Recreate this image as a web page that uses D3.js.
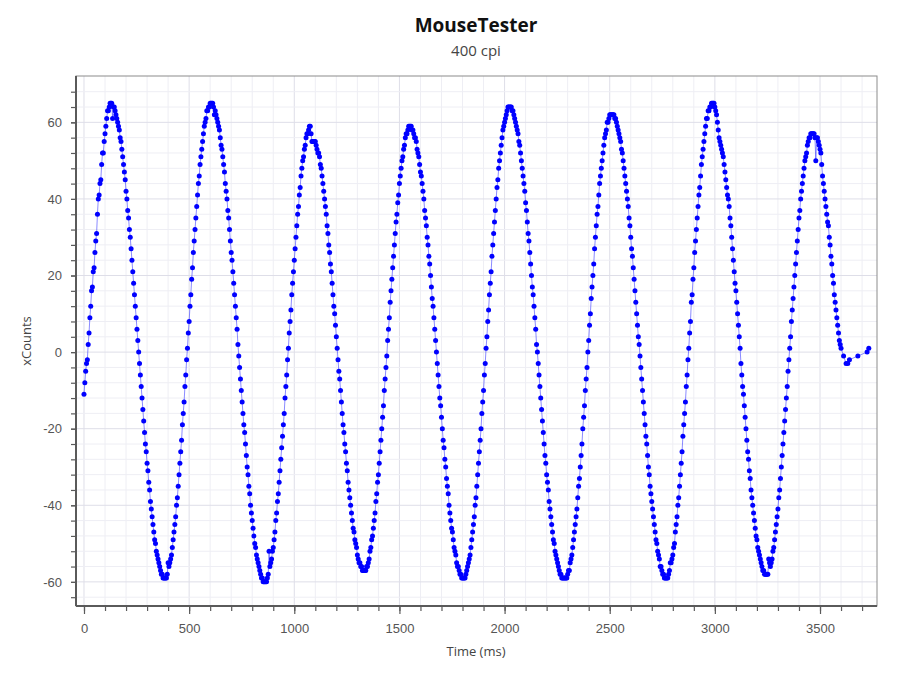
<!DOCTYPE html>
<html>
<head>
<meta charset="utf-8">
<script src="https://cdn.jsdelivr.net/npm/d3@7"></script>
<style>
  body { margin: 0; background: #fff; }
  svg { font-family: "Open Sans", "Noto Sans", sans-serif; }
</style>
</head>
<body>
<svg id="chart" width="900" height="675"></svg>
<script>
const chartTitle = 'MouseTester';
const chartSubtitle = '400 cpi';
const xTitle = 'Time (ms)';
const yTitle = 'xCounts';
const xTicks = [0, 500, 1000, 1500, 2000, 2500, 3000, 3500];
const yTicks = [-60, -40, -20, 0, 20, 40, 60];

// sample times, ms
const timeMs = [
  0,4,8,12,16,20,24,28,32,36,40,44,48,52,56,60,64,68,72,76,80,84,88,92,96,
  100,104,108,112,116,120,124,128,132,136,140,144,148,152,156,160,164,168,172,176,180,184,188,192,196,
  200,204,208,212,216,220,224,228,232,236,240,244,248,252,256,260,264,268,272,276,280,284,288,292,296,
  300,304,308,312,316,320,324,328,332,336,340,344,348,352,356,360,364,368,372,376,380,384,388,392,396,
  400,404,408,412,416,420,424,428,432,436,440,444,448,452,456,460,464,468,472,476,480,484,488,492,496,
  500,504,508,512,516,520,524,528,532,536,540,544,548,552,556,560,564,568,572,576,580,584,588,592,596,
  600,604,608,612,616,620,624,628,632,636,640,644,648,652,656,660,664,668,672,676,680,684,688,692,696,
  700,704,708,712,716,720,724,728,732,736,740,744,748,752,756,760,764,768,772,776,780,784,788,792,796,
  800,804,808,812,816,820,824,828,832,836,840,844,848,852,856,860,864,868,872,876,880,884,888,892,896,
  900,904,908,912,916,920,924,928,932,936,940,944,948,952,956,960,964,968,972,976,980,984,988,992,996,
  1000,1004,1008,1012,1016,1020,1024,1028,1032,1036,1040,1044,1048,1052,1056,1060,1064,1068,1072,1076,1080,1084,1088,1092,1096,
  1100,1104,1108,1112,1116,1120,1124,1128,1132,1136,1140,1144,1148,1152,1156,1160,1164,1168,1172,1176,1180,1184,1188,1192,1196,
  1200,1204,1208,1212,1216,1220,1224,1228,1232,1236,1240,1244,1248,1252,1256,1260,1264,1268,1272,1276,1280,1284,1288,1292,1296,
  1300,1304,1308,1312,1316,1320,1324,1328,1332,1336,1340,1344,1348,1352,1356,1360,1364,1368,1372,1376,1380,1384,1388,1392,1396,
  1400,1404,1408,1412,1416,1420,1424,1428,1432,1436,1440,1444,1448,1452,1456,1460,1464,1468,1472,1476,1480,1484,1488,1492,1496,
  1500,1504,1508,1512,1516,1520,1524,1528,1532,1536,1540,1544,1548,1552,1556,1560,1564,1568,1572,1576,1580,1584,1588,1592,1596,
  1600,1604,1608,1612,1616,1620,1624,1628,1632,1636,1640,1644,1648,1652,1656,1660,1664,1668,1672,1676,1680,1684,1688,1692,1696,
  1700,1704,1708,1712,1716,1720,1724,1728,1732,1736,1740,1744,1748,1752,1756,1760,1764,1768,1772,1776,1780,1784,1788,1792,1796,
  1800,1804,1808,1812,1816,1820,1824,1828,1832,1836,1840,1844,1848,1852,1856,1860,1864,1868,1872,1876,1880,1884,1888,1892,1896,
  1900,1904,1908,1912,1916,1920,1924,1928,1932,1936,1940,1944,1948,1952,1956,1960,1964,1968,1972,1976,1980,1984,1988,1992,1996,
  2000,2004,2008,2012,2016,2020,2024,2028,2032,2036,2040,2044,2048,2052,2056,2060,2064,2068,2072,2076,2080,2084,2088,2092,2096,
  2100,2104,2108,2112,2116,2120,2124,2128,2132,2136,2140,2144,2148,2152,2156,2160,2164,2168,2172,2176,2180,2184,2188,2192,2196,
  2200,2204,2208,2212,2216,2220,2224,2228,2232,2236,2240,2244,2248,2252,2256,2260,2264,2268,2272,2276,2280,2284,2288,2292,2296,
  2300,2304,2308,2312,2316,2320,2324,2328,2332,2336,2340,2344,2348,2352,2356,2360,2364,2368,2372,2376,2380,2384,2388,2392,2396,
  2400,2404,2408,2412,2416,2420,2424,2428,2432,2436,2440,2444,2448,2452,2456,2460,2464,2468,2472,2476,2480,2484,2488,2492,2496,
  2500,2504,2508,2512,2516,2520,2524,2528,2532,2536,2540,2544,2548,2552,2556,2560,2564,2568,2572,2576,2580,2584,2588,2592,2596,
  2600,2604,2608,2612,2616,2620,2624,2628,2632,2636,2640,2644,2648,2652,2656,2660,2664,2668,2672,2676,2680,2684,2688,2692,2696,
  2700,2704,2708,2712,2716,2720,2724,2728,2732,2736,2740,2744,2748,2752,2756,2760,2764,2768,2772,2776,2780,2784,2788,2792,2796,
  2800,2804,2808,2812,2816,2820,2824,2828,2832,2836,2840,2844,2848,2852,2856,2860,2864,2868,2872,2876,2880,2884,2888,2892,2896,
  2900,2904,2908,2912,2916,2920,2924,2928,2932,2936,2940,2944,2948,2952,2956,2960,2964,2968,2972,2976,2980,2984,2988,2992,2996,
  3000,3004,3008,3012,3016,3020,3024,3028,3032,3036,3040,3044,3048,3052,3056,3060,3064,3068,3072,3076,3080,3084,3088,3092,3096,
  3100,3104,3108,3112,3116,3120,3124,3128,3132,3136,3140,3144,3148,3152,3156,3160,3164,3168,3172,3176,3180,3184,3188,3192,3196,
  3200,3204,3208,3212,3216,3220,3224,3228,3232,3236,3240,3244,3248,3252,3256,3260,3264,3268,3272,3276,3280,3284,3288,3292,3296,
  3300,3304,3308,3312,3316,3320,3324,3328,3332,3336,3340,3344,3348,3352,3356,3360,3364,3368,3372,3376,3380,3384,3388,3392,3396,
  3400,3404,3408,3412,3416,3420,3424,3428,3432,3436,3440,3444,3448,3452,3456,3460,3464,3468,3472,3476,3480,3484,3488,3492,3496,
  3500,3504,3508,3512,3516,3520,3524,3528,3532,3536,3540,3544,3548,3552,3556,3560,3564,3568,3572,3576,3580,3584,3588,3592,3596,
  3600,3612,3624,3632,3640,3680,3724,3732
];

// counts per report, one line per swing
const xCounts = [
  -11,-8,-5,-3,-2,2,5,9,12,16,17,21,22,26,29,31,36,40,41,44,45,49,52,52,55,57,59,61,63,63,64,65,65,
  65,61,64,64,63,62,61,60,59,58,56,55,53,51,49,47,45,42,40,37,35,32,30,27,24,21,18,15,12,9,6,3,0,-3,-6,-9,-12,-15,-18,-21,-24,-26,-29,-31,-34,-36,-39,-41,-43,-45,-47,-49,-50,-52,-53,-54,-55,-56,-57,-58,-58,-59,-59,-59,
  -59,-59,-58,-55,-56,-55,-54,-53,-51,-49,-47,-45,-43,-40,-38,-35,-32,-29,-26,-23,-19,-16,-13,-9,-6,-2,1,5,8,12,15,19,22,26,29,32,35,38,41,44,46,49,51,53,55,57,59,60,61,63,63,64,64,65,65,
  65,65,64,62,63,62,61,60,59,58,56,54,53,51,49,47,44,42,40,37,35,32,29,26,24,21,18,15,12,9,6,2,-1,-4,-7,-10,-13,-16,-19,-21,-24,-27,-30,-32,-35,-37,-40,-42,-44,-46,-48,-50,-51,-53,-54,-55,-56,-57,-58,-59,-59,-60,-60,-60,
  -60,-60,-59,-58,-52,-56,-55,-54,-52,-51,-49,-47,-44,-42,-39,-37,-34,-31,-28,-25,-22,-19,-16,-12,-9,-6,-2,1,5,8,11,15,18,21,24,27,30,33,36,38,41,43,46,48,50,51,53,54,56,57,57,58,59,59,
  57,55,55,55,55,55,54,53,52,52,51,49,48,46,44,42,40,38,36,33,31,28,26,23,21,18,15,12,10,7,4,1,-2,-5,-7,-10,-13,-16,-19,-21,-24,-26,-29,-31,-34,-36,-38,-40,-42,-44,-46,-47,-49,-50,-51,-53,-54,-55,-55,-56,-56,-57,-57,-57,
  -57,-57,-56,-56,-55,-54,-52,-51,-49,-48,-46,-44,-42,-39,-37,-34,-32,-29,-26,-23,-20,-17,-14,-10,-7,-4,-1,3,6,9,13,16,19,22,25,28,31,34,36,39,41,44,46,48,50,51,53,54,56,57,57,58,59,59,
  59,59,58,58,57,56,56,55,53,52,51,49,47,46,44,42,40,37,35,33,30,28,25,23,20,17,14,12,9,6,3,0,-3,-6,-9,-12,-14,-17,-20,-23,-25,-28,-30,-33,-35,-37,-40,-42,-44,-46,-47,-49,-51,-52,-53,-55,-56,-56,-57,-58,-58,-59,-59,-59,
  -59,-59,-58,-57,-56,-55,-54,-53,-51,-49,-47,-45,-43,-40,-38,-35,-32,-29,-26,-23,-20,-16,-13,-10,-6,-3,1,4,8,11,15,18,21,25,28,31,34,37,40,43,45,48,50,52,54,56,58,59,60,61,62,63,64,64,64,
  64,64,63,63,62,61,60,59,58,57,55,54,52,50,48,46,44,42,39,37,34,31,29,26,23,20,17,15,12,9,6,2,0,-3,-6,-9,-12,-15,-18,-21,-24,-27,-29,-32,-34,-36,-39,-41,-43,-45,-47,-49,-50,-52,-53,-54,-55,-56,-57,-58,-58,-59,-59,-59,-59,
  -59,-59,-59,-58,-57,-57,-55,-54,-53,-51,-49,-47,-45,-43,-41,-38,-35,-33,-30,-27,-24,-20,-17,-14,-10,-7,-4,0,3,7,10,14,17,20,23,27,30,33,36,38,41,44,46,48,50,52,54,56,57,58,60,60,61,62,62,62,62,
  62,62,61,61,60,59,58,57,56,55,53,52,50,48,46,44,42,40,38,35,33,30,27,25,22,19,16,13,10,7,4,2,-1,-4,-7,-10,-13,-16,-19,-22,-24,-27,-30,-32,-35,-37,-39,-41,-43,-45,-47,-49,-50,-52,-53,-54,-56,-56,-57,-58,-58,-59,-59,-59,
  -59,-59,-58,-57,-55,-55,-54,-53,-51,-50,-47,-45,-43,-40,-38,-35,-32,-29,-26,-22,-19,-16,-13,-9,-6,-2,1,5,8,13,15,19,22,26,29,32,35,38,41,43,46,49,51,53,55,57,59,61,61,63,63,64,64,65,65,
  65,65,64,63,62,60,58,56,55,54,53,52,51,49,47,45,43,41,40,38,35,33,30,27,24,21,18,16,13,10,7,4,1,-3,-6,-9,-11,-14,-17,-20,-23,-26,-28,-31,-33,-36,-38,-40,-42,-44,-46,-48,-49,-51,-52,-53,-54,-55,-56,-57,-57,-58,-58,-58,
  -58,-58,-54,-55,-56,-55,-54,-52,-51,-49,-47,-45,-43,-41,-38,-36,-33,-30,-27,-24,-21,-18,-15,-12,-9,-5,-2,1,4,8,11,14,17,20,23,26,29,32,35,37,40,42,44,46,48,50,51,52,54,55,56,56,57,57,57,57,
  57,56,50,56,56,55,54,53,52,49,46,44,42,40,38,36,34,33,30,28,25,23,20,18,15,13,11,9,7,5,3,2,1,
  -1,-3,-3,-2,-1,0,1
];

const points = d3.zip(timeMs, xCounts);

const svg = d3.select('#chart');
const plot = { left: 76, right: 877, top: 76, bottom: 606 };

const x = d3.scaleLinear().domain([-38, 3771]).range([plot.left, plot.right]);
const y = d3.scaleLinear().domain([-66.3, 72.1]).range([plot.bottom, plot.top]);

const xMinor = d3.range(0, 3771, 100);
const yMinor = d3.range(-64, 72, 4);

// grid
const grid = svg.append('g');
grid.selectAll('.gx').data(xMinor).join('line')
  .attr('x1', d => x(d)).attr('x2', d => x(d))
  .attr('y1', plot.top).attr('y2', plot.bottom)
  .attr('stroke', d => d % 500 === 0 ? '#dedee8' : '#eeeef4')
  .attr('stroke-width', 1);
grid.selectAll('.gy').data(yMinor).join('line')
  .attr('x1', plot.left).attr('x2', plot.right)
  .attr('y1', d => y(d)).attr('y2', d => y(d))
  .attr('stroke', d => d % 20 === 0 ? '#dedee8' : '#eeeef4')
  .attr('stroke-width', 1);

// frame
svg.append('rect')
  .attr('x', plot.left).attr('y', plot.top)
  .attr('width', plot.right - plot.left).attr('height', plot.bottom - plot.top)
  .attr('fill', 'none').attr('stroke', '#8c8c8c').attr('stroke-width', 1);

// clip for the series
svg.append('clipPath').attr('id', 'clip').append('rect')
  .attr('x', plot.left).attr('y', plot.top)
  .attr('width', plot.right - plot.left).attr('height', plot.bottom - plot.top);

const series = svg.append('g').attr('clip-path', 'url(#clip)');
series.append('path')
  .datum(points)
  .attr('fill', 'none')
  .attr('stroke', '#2b2bff')
  .attr('stroke-opacity', 0.55)
  .attr('stroke-width', 1)
  .attr('d', d3.line().x(d => x(d[0])).y(d => y(d[1])));

series.selectAll('circle').data(points).join('circle')
  .attr('cx', d => x(d[0]))
  .attr('cy', d => y(d[1]))
  .attr('r', 2.5)
  .attr('fill', '#0000ff');

// axes
const axisColor = '#5a5a5a';
const plain = d => String(d); // hyphen minus, no grouping
const gxMinor = svg.append('g').attr('transform', `translate(0,${plot.bottom})`)
  .call(d3.axisBottom(x).tickValues(xMinor).tickSize(5).tickFormat(''));
const gx = svg.append('g').attr('transform', `translate(0,${plot.bottom})`)
  .call(d3.axisBottom(x).tickValues(xTicks).tickSize(8).tickPadding(10)
    .tickSizeOuter(0).tickFormat(plain));
const gyMinor = svg.append('g').attr('transform', `translate(${plot.left},0)`)
  .call(d3.axisLeft(y).tickValues(yMinor).tickSize(5).tickFormat(''));
const gy = svg.append('g').attr('transform', `translate(${plot.left},0)`)
  .call(d3.axisLeft(y).tickValues(yTicks).tickSize(5).tickPadding(9)
    .tickSizeOuter(0).tickFormat(plain));

[gxMinor, gyMinor].forEach(g => g.select('.domain').remove());
[gx, gy].forEach(g => {
  g.select('.domain').attr('stroke', axisColor).attr('stroke-width', 2)
    .attr('d', g === gx ? `M${plot.left},0H${plot.right}` : `M0,${plot.top}V${plot.bottom}`);
  g.selectAll('text').attr('fill', '#555').style('font-size', '13px');
});
svg.selectAll('.tick line').attr('stroke', axisColor).attr('stroke-width', 1.2);

// titles
svg.append('text')
  .attr('x', 476).attr('y', 32)
  .attr('text-anchor', 'middle')
  .style('font-size', '19px').style('font-weight', 'bold')
  .attr('fill', '#111')
  .text(chartTitle);
svg.append('text')
  .attr('x', 476).attr('y', 56)
  .attr('text-anchor', 'middle')
  .style('font-size', '15px')
  .attr('fill', '#444')
  .text(chartSubtitle);
svg.append('text')
  .attr('x', 476).attr('y', 656)
  .attr('text-anchor', 'middle')
  .style('font-size', '13px')
  .attr('fill', '#444')
  .text(xTitle);
svg.append('text')
  .attr('transform', `translate(31,${(plot.top + plot.bottom) / 2}) rotate(-90)`)
  .attr('text-anchor', 'middle')
  .style('font-size', '13px')
  .attr('fill', '#444')
  .text(yTitle);
</script>
</body>
</html>
